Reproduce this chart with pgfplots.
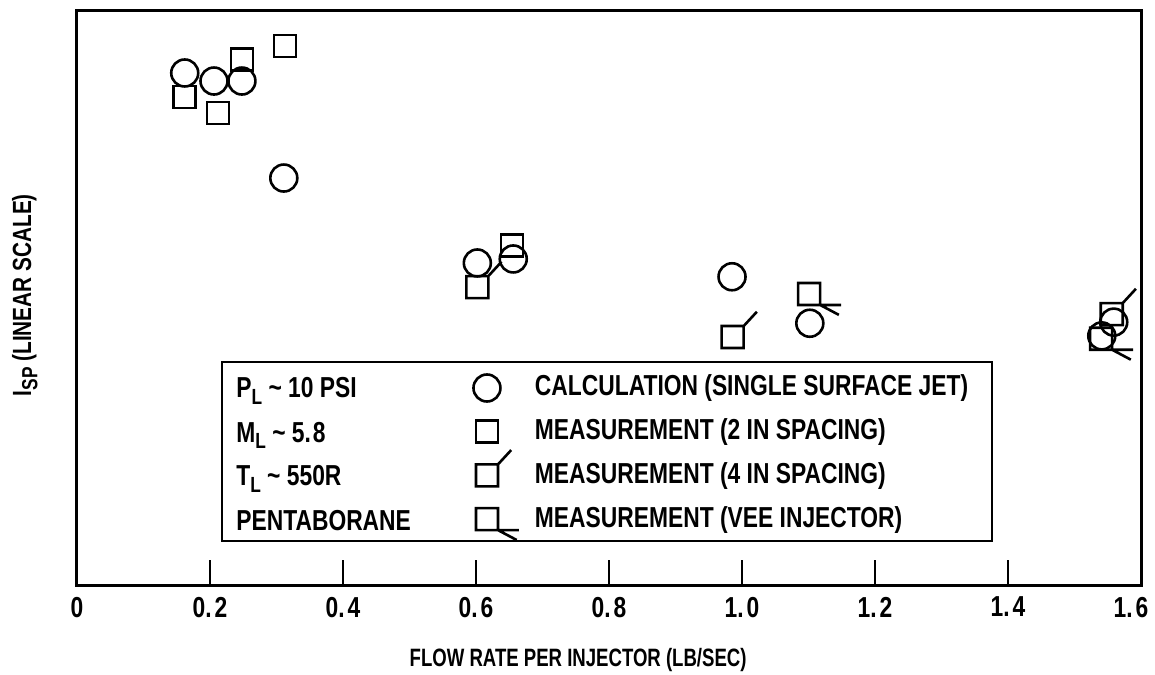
\documentclass[border=0pt]{standalone}
\usepackage{fontspec}
\setmainfont{Liberation Sans}[FakeStretch=0.79]
\newfontfamily\narrowfont{Liberation Sans}[FakeStretch=0.74]
\usepackage{pgfplots}
\pgfplotsset{compat=1.18}

\pgfdeclareplotmark{sqfour}{%
  \pgfpathrectangle{\pgfpoint{-\pgfplotmarksize}{-\pgfplotmarksize}}{\pgfpoint{2\pgfplotmarksize}{2\pgfplotmarksize}}%
  \pgfpathmoveto{\pgfpoint{\pgfplotmarksize}{\pgfplotmarksize}}%
  \pgfpathlineto{\pgfpoint{2.2\pgfplotmarksize}{2.3\pgfplotmarksize}}%
  \pgfusepathqstroke}
\pgfdeclareplotmark{sqvee}{%
  \pgfpathrectangle{\pgfpoint{-\pgfplotmarksize}{-\pgfplotmarksize}}{\pgfpoint{2\pgfplotmarksize}{2\pgfplotmarksize}}%
  \pgfpathmoveto{\pgfpoint{\pgfplotmarksize}{-\pgfplotmarksize}}%
  \pgfpathlineto{\pgfpoint{2.9\pgfplotmarksize}{-\pgfplotmarksize}}%
  \pgfpathmoveto{\pgfpoint{\pgfplotmarksize}{-\pgfplotmarksize}}%
  \pgfpathlineto{\pgfpoint{2.7\pgfplotmarksize}{-1.9\pgfplotmarksize}}%
  \pgfusepathqstroke}

\newcommand{\sub}[1]{\raisebox{-0.45ex}{\fontsize{11}{11}\selectfont #1}}
\newcommand{\lfont}{\bfseries\fontsize{14.5}{14.5}\selectfont}

\begin{document}
\begin{tikzpicture}
\begin{axis}[
  scale only axis, width=532bp, height=287bp,
  xmin=0, xmax=1.6, ymin=0, ymax=10,
  axis line style={line width=1.5bp},
  xtick={0,0.2,0.4,0.6,0.8,1,1.2,1.4,1.6},
  xticklabels={0,0.\kern1.5pt2,0.\kern1.5pt4,0.\kern1.5pt6,0.\kern1.5pt8,1.\kern1.5pt0,1.\kern1.5pt2,1.\kern1.5pt4,\hspace*{-10bp}1.\kern1.5pt6},
  ytick=\empty,
  tick pos=left,
  xtick align=inside,
  major tick length=12.5bp,
  tick style={line width=1.1bp, black},
  /pgf/number format/assume math mode=true,
  xticklabel style={font=\lfont, yshift=-2.5bp},
  xlabel={FLOW RATE PER INJECTOR (LB/SEC)},
  xlabel style={font=\narrowfont\bfseries\fontsize{12.6}{12.6}\selectfont, at={(axis description cs:0.471,0)}, anchor=center, yshift=-37.5bp},
  ylabel={I\sub{SP} (LINEAR SCALE)},
  ylabel style={font=\bfseries\fontsize{13.2}{13.2}\selectfont, at={(axis description cs:-0.049,0.505)}, anchor=center},
  legend style={at={(axis description cs:0.3665,0.3676)}, anchor=north west, draw=none, fill=none,
    inner sep=0pt, outer sep=0pt, row sep=7.85bp, column sep=14bp,
    font=\lfont,
    nodes={inner sep=0pt, text height=11bp, text depth=3bp}},
  legend cell align=left,
  legend image code/.code={\draw[#1,overlay] plot coordinates {(0bp,0bp)};
    \pgfpathrectangle{\pgfpoint{-10bp}{-7bp}}{\pgfpoint{20bp}{14bp}}\pgfusepath{use as bounding box}},
  every axis plot/.append style={black, line width=1.3bp, only marks},
]
\addplot[mark=o, mark size=6.75bp] coordinates {
  (0.162,8.92) (0.206,8.78) (0.248,8.78) (0.311,7.09)
  (0.602,5.61) (0.656,5.68) (0.985,5.37) (1.102,4.56)
  (1.541,4.34) (1.559,4.58)
};
\addlegendentry{CALCULATION (SINGLE SURFACE JET)}
\addplot[mark=square, mark size=5.5bp] coordinates {
  (0.162,8.50) (0.212,8.22) (0.248,9.15) (0.313,9.39) (0.654,5.91)
};
\addlegendentry{MEASUREMENT (2 IN SPACING)}
\addplot[mark=sqfour, mark size=5.5bp] coordinates {
  (0.602,5.19) (0.986,4.32) (1.556,4.72)
};
\addlegendentry{MEASUREMENT (4 IN SPACING)}
\addplot[mark=sqvee, mark size=5.5bp] coordinates {
  (1.101,5.07) (1.540,4.29)
};
\addlegendentry{MEASUREMENT (VEE INJECTOR)}

\draw[line width=1bp] (axis description cs:0.1363,0.3885) rectangle (axis description cs:0.860,0.0767);
\node[anchor=base west, font=\lfont, inner sep=0pt] at (axis description cs:0.1494,0.3258) {P\sub{L} \textasciitilde{} 10 PSI};
\node[anchor=base west, font=\lfont, inner sep=0pt] at (axis description cs:0.1494,0.2491) {M\sub{L} \textasciitilde{} 5.\kern1pt8};
\node[anchor=base west, font=\lfont, inner sep=0pt] at (axis description cs:0.1494,0.1725) {T\sub{L} \textasciitilde{} 550R};
\node[anchor=base west, font=\lfont, inner sep=0pt] at (axis description cs:0.1494,0.0941) {PENTABORANE};
\end{axis}
\pgfresetboundingbox
\useasboundingbox (current axis.south west) ++(-38.5bp,-45bp) rectangle ++(577.5bp,337.5bp);
\end{tikzpicture}
\end{document}
